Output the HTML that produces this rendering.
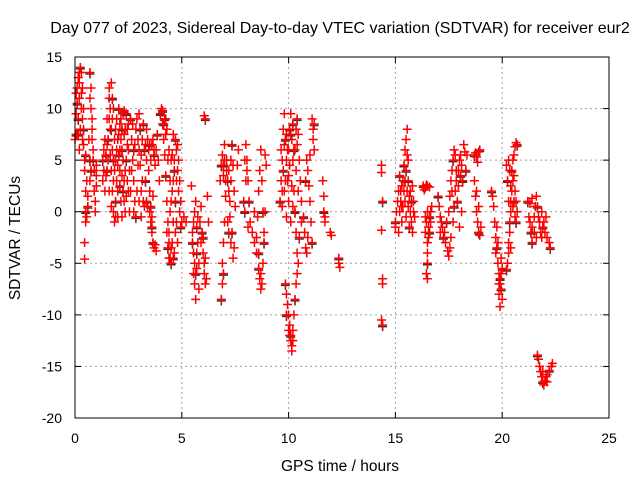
<!DOCTYPE html>
<html><head><meta charset="utf-8"><style>
html,body{margin:0;padding:0;background:#fff;}
svg{display:block;font-family:"Liberation Sans",sans-serif;}
</style></head><body>
<svg id="chart" width="640" height="480" viewBox="0 0 640 480" xmlns="http://www.w3.org/2000/svg">
<rect width="640" height="480" fill="#fff"/>
<text x="340" y="33" font-size="16" text-anchor="middle">Day 077 of 2023, Sidereal Day-to-day VTEC variation (SDTVAR) for receiver eur2</text>
<g id="grid"></g>
<g id="ticks"></g>
<g id="marks"></g>
<rect x="75" y="57" width="534" height="361" fill="none" stroke="#000" stroke-width="1"/>
<text x="340" y="471" font-size="15.5" text-anchor="middle">GPS time / hours</text>
<text x="20" y="238" font-size="15.5" text-anchor="middle" transform="rotate(-90 20 238)">SDTVAR / TECUs</text>
</svg>
<script>
const xTicks=[0,5,10,15,20,25];
const yTicks=[-20,-15,-10,-5,0,5,10,15];
const segA=[[0.05,7.5],[0.1,7.5],[0.15,13],[0.2,12.5],[0.2,11],[0.25,14],[0.3,13.5],[0.3,10],[0.35,12],[0.35,9],[0.4,8],[0.4,6.5],[0.45,5],[0.45,4],[0.5,2],[0.5,0],[0.5,-1],[0.45,-3],[0.45,-4.6],[0.2,6],[0.15,9],[0.25,8],[0.05,11.5],[0.1,12],[0,7],[0.1,10.5],[0.2,13.5],[0.3,11.5],[0.4,10],[0.35,7],[0.5,5.5],[0.55,3],[0.6,1.5],[0.55,-0.5],[0.05,9.5],[0.15,7.5]];
const segB=[[0.7,13.5],[0.75,12],[0.75,10],[0.8,8],[0.8,7],[0.85,5],[0.9,4],[0.9,2],[0.95,1],[0.65,7],[0.7,5],[0.7,3],[0.95,0],[1.0,2.5],[1.0,4.5],[0.6,0.5],[0.7,11],[0.8,9],[0.85,6],[1.0,3.5],[0.75,4]];
const segC=[[1.3,5],[1.3,3],[1.4,7],[1.4,2],[1.5,9],[1.5,4],[1.6,11],[1.6,12],[1.65,10],[1.7,12.5],[1.7,8],[1.75,6],[1.8,3],[1.8,0],[1.85,-1],[1.9,1],[1.9,5],[1.95,9],[2.0,7],[2.0,2],[2.05,10],[2.1,8.5],[2.1,4],[2.15,1],[2.2,-0.5],[2.2,6],[2.25,9.5],[2.3,7.5],[2.3,3],[2.35,0],[2.4,5],[2.45,8],[2.5,6],[2.5,2],[2.55,0],[1.55,7],[1.65,5.5],[1.75,2],[1.85,4],[1.95,3],[2.05,5.5],[2.15,7],[2.25,5],[2.35,8],[2.45,3],[1.45,5.5],[1.35,6],[1.6,9],[1.8,10],[2.0,-0.5],[2.3,9.8],
[1.35,4],[1.45,3.5],[1.55,5],[1.65,8],[1.75,11],[1.85,7],[1.95,6],[2.05,7.5],[2.15,9],[2.25,2],[2.35,4],[2.45,6.5],[2.55,4],[1.7,4],[1.8,5],[1.9,8],[2.0,4.5],[2.1,6],[2.2,3.5],[2.4,9.5],[2.5,8.5],[1.6,2],[1.7,0.5],[1.9,-0.5],[2.1,2.5],[2.3,1],[2.4,1.5],[1.5,6.5],[1.75,9],[2.2,8]];
const segD=[[2.6,9],[2.65,7],[2.7,5],[2.75,3],[2.8,1],[2.85,-0.5],[2.9,2],[2.95,4.5],[3.0,6],[3.0,9.5],[3.05,8],[3.1,5.5],[3.15,3],[3.2,1],[3.25,0.5],[3.3,3],[3.35,5],[3.4,7],[3.45,4],[3.5,2],[3.55,0.5],[3.6,-0.5],[3.65,1.5],[2.7,8.5],[2.9,9],[3.2,8.5],[3.3,6.5],[2.8,6.5],[3.1,2],
[2.65,4],[2.75,6],[2.85,8],[2.95,7],[3.05,4.5],[3.15,7],[3.25,6],[3.35,8],[3.45,6],[3.55,5],[3.6,6.5],[3.7,5.5],[2.6,2],[2.75,0],[3.0,1],[3.1,-0.5],[3.5,6.5],[3.65,7]];
const segE=[[3.35,1],[3.4,0.5],[3.5,0],[3.55,-1],[3.6,-2],[3.65,-3],[3.7,-3.5],[3.8,-3.8],[3.75,4.5],[3.8,6],[3.85,7.5],[3.9,5],[3.95,3],[3.7,6],[3.75,-3.2],[3.6,-1.5]];
const segF=[[4.0,9.5],[4.05,10],[4.1,8.5],[4.15,7],[4.2,5.5],[4.25,3.5],[4.3,1],[4.35,-1],[4.4,-3],[4.45,-4.5],[4.5,-5],[4.55,-3],[4.6,-1],[4.6,3],[4.65,5],[4.7,7],[4.75,6],[4.8,4],[4.85,2],[4.9,0],[4.95,-1.5],[5.0,-1],[4.3,8],[4.4,6],[4.5,5],[4.2,9],[4.6,7.5],[4.8,6.5],[4.5,1],[4.4,-4.5],[4.35,-3.5],[4.65,-4],[4.7,-2],[5.1,-0.5],[5.2,-1],
[4.1,9.8],[4.25,7.5],[4.35,5],[4.45,3],[4.55,5.5],[4.65,4],[4.75,3],[4.85,5],[4.9,3],[4.95,1],[4.7,1],[4.55,2],[4.45,0],[4.4,-2],[4.5,-3.5],[4.6,-4.5],[4.3,-2],[4.75,-1],[4.8,-3],[4.25,9],[4.15,8.5]];
const segG=[[5.5,-3],[5.5,-2],[5.55,-4],[5.6,-5],[5.6,-7],[5.65,-6],[5.7,-5.5],[5.55,-1],[5.6,0],[5.65,1],[5.7,-1.5],[5.75,-3],[5.8,-5],[5.85,-1],[5.9,0.5],[5.95,-2],[6.0,-4],[6.05,-6],[6.1,-7],[6.15,-6.5],[6.0,-2.5],[6.1,-4.5],[5.8,-7.5],[5.65,-8.5],[6.05,9.3],[6.1,9],[5.45,2.5],[6.2,1.5],[6.25,-1],[5.55,-6],[5.7,-4],[5.9,-3],[6.05,-5],[5.75,-0.5]];
const segH=[[6.85,-8.5],[6.9,-7],[6.9,-5],[6.95,-3],[7.0,-1],[6.85,4.5],[6.9,5.5],[6.95,3.5],[7.0,5],[7.1,4],[7.15,3],[7.2,2],[7.25,1],[7.3,3],[7.3,5],[7.35,6.5],[7.4,4.5],[7.45,2],[7.5,0.5],[7.15,-1],[7.2,-2],[7.3,-3],[7.4,-4.5],[7.45,-3.5],[7.25,-0.5],[6.95,-6],[6.8,3],[7.0,6.5],[7.6,4.5],[7.65,6],[6.95,4.5],[7.05,3],[7.1,5],[7.2,4],[7.05,1.5],[7.35,-2]];
const segI=[[7.9,1],[7.95,5],[8.0,6.5],[8.05,5],[8.1,3],[8.15,1],[8.2,-1],[8.3,-2],[8.4,0],[8.5,-4],[8.6,-5.5],[8.65,-6.5],[8.7,-7.5],[8.75,-7],[8.8,-5],[8.85,-3],[8.6,2],[8.65,4],[8.7,6],[8.75,3],[8.8,0],[8.85,-2],[8.5,-2.5],[8.55,-0.5],[8.1,-1.5],[7.95,0],[8.95,4.5],[8.9,5.5],[8.9,0],[8.4,-3],[8.6,-4],[8.05,4],[8.0,3],[8.7,-6]];
const segJ=[[9.6,1],[9.65,3],[9.7,5],[9.75,8],[9.8,9.5],[9.85,7],[9.9,5],[9.95,3],[10.0,1],[10.0,6],[10.05,8],[10.1,9.5],[10.15,7],[10.2,5],[10.25,2],[10.3,0],[10.35,-2],[10.4,-4],[10.3,6],[10.35,8],[10.4,9],[10.5,5],[10.55,3],[10.6,1],[10.6,-1],[10.5,-2.5],[9.7,0.5],[9.8,2],[9.9,7.5],[10.0,3.5],[10.2,8.5],[10.45,7.5],[9.65,6],[9.9,-0.5],[10.1,-1],
[9.75,4],[9.85,3],[9.95,6],[10.05,4.5],[10.15,2.5],[10.25,6],[10.35,4],[10.45,2],[10.4,6.5],[9.8,6.5],[10.1,7.5],[10.2,0.5],[9.7,2]];
const segJ2=[[9.85,-7],[9.9,-8],[9.95,-9],[10.0,-10],[10.05,-11],[10.1,-12],[10.15,-13],[10.1,-12.5],[10.2,-11.5],[10.25,-10],[10.3,-8.5],[10.35,-7],[10.4,-6],[10.45,-5],[10.0,-11.5],[9.9,-10],[10.15,-13.5],[10.05,-12],[10.2,-12.5]];
const segK=[[10.7,-0.5],[10.75,-2],[10.8,-3.5],[10.85,-4],[10.9,-2.5],[10.8,3],[10.85,5],[10.9,4],[11.0,1],[11.05,-1],[11.1,-3],[11.1,9],[11.15,8],[11.15,7],[11.2,6],[11.2,8.5],[11.0,5.5],[10.95,2.5],[11.6,3],[11.65,1.5],[11.65,0],[11.7,-1],[11.7,-0.5],[11.95,-2],[12.0,-2.3],[12.35,-4.5],[12.35,-5],[12.4,-5.4],[14.35,4.5],[14.35,3.8],[14.4,1],[14.35,-1.8],[14.4,-6.5],[14.4,-7],[14.35,-10.5],[14.4,-11]];
const segL=[[15.0,-1],[15.0,-1.5],[15.05,0],[15.1,1],[15.15,2],[15.2,3.5],[15.25,2],[15.3,0.5],[15.3,-1],[15.35,3],[15.4,4.5],[15.45,6],[15.5,7],[15.55,8],[15.55,5.5],[15.6,3],[15.65,1.5],[15.7,0],[15.75,-1],[15.8,-2],[15.75,1],[15.8,2.5],[15.85,1],[15.9,-0.5],[15.4,2],[15.5,4],[15.6,5],[15.3,2.5],[15.2,0],[15.15,-2],[15.65,-1.5],[15.45,1],[15.5,-0.5],[15.25,1],[15.35,0.5],[15.45,3],[15.55,2],[15.7,2],[15.85,0],[15.6,0.5]];
const segN=[[16.3,2.5],[16.4,2.3],[16.5,2.5],[16.6,2.4],[16.35,2.1],[16.45,2.6],[16.4,-0.5],[16.45,-1],[16.5,0],[16.55,-1.5],[16.6,-2],[16.65,-1],[16.7,0.5],[16.5,-3],[16.5,-4],[16.5,-5],[16.45,-6],[16.55,-2.5],[16.4,-2],[16.65,0],[16.6,-0.5],[16.5,-6.5]];
const segO=[[17.0,1.5],[17.05,0.5],[17.1,-0.5],[17.15,-1],[17.2,-1.5],[17.25,-2.5],[17.3,-2],[17.35,-3],[17.1,-2],[17.45,-3.8],[17.4,-1],[17.5,0],[17.55,1.5],[17.6,3],[17.65,4],[17.7,5],[17.75,6],[17.8,5.5],[17.85,4],[17.8,2],[17.75,0.5],[17.7,-1],[17.6,-2.5],[17.55,-3.5],[17.5,-4.3],[17.9,1],[17.95,2.5],[18.0,5],[18.05,5.5],[18.1,4.5],[18.15,3],[18.1,0],[18.0,-1.5],[18.2,6.5],[18.25,5.8],[18.3,4],[18.35,5.5],[17.65,2],[17.85,3],[17.95,4],[18.05,3.5]];
const segQ=[[18.7,5.5],[18.75,5.7],[18.8,5.3],[18.85,4.8],[18.9,5.8],[18.95,6],[18.7,3],[18.75,1.5],[18.8,0],[18.85,-1],[18.9,-2],[18.95,-2.3],[18.8,2],[18.9,0.5],[19.0,-1.5]];
const segR=[[19.5,2],[19.55,1.5],[19.6,0.5],[19.65,-1],[19.7,-2.5],[19.75,-3.5],[19.7,-4],[19.8,-5],[19.85,-6],[19.9,-7],[19.95,-7.5],[20.0,-8.5],[19.9,-9.2],[19.85,-8],[19.95,-6],[20.0,-5.5],[19.8,-3],[19.75,-1.5],[19.95,-4.5],[19.85,-7],[19.9,-6.5]];
const segS=[[20.2,-5.6],[20.25,-5],[20.3,-4],[20.3,-3],[20.35,-2],[20.35,-1],[20.4,0],[20.4,1],[20.45,2],[20.5,3],[20.45,4],[20.5,5],[20.55,5.5],[20.6,6.3],[20.65,6.7],[20.7,6.5],[20.55,3.5],[20.6,2],[20.65,1],[20.7,0],[20.65,-1],[20.6,-0.5],[20.5,0.5],[20.4,-3.5],[20.3,1],[20.25,3],[20.2,4.5],[20.3,5],[20.35,4],[20.4,2.5],[20.55,1]];
const segU=[[21.2,1],[21.3,0.8],[21.4,1.3],[21.25,-0.5],[21.3,-1],[21.35,-2],[21.4,-1.5],[21.5,-0.5],[21.55,0.5],[21.6,1.5],[21.65,0.5],[21.7,-0.5],[21.75,-1],[21.8,-2],[21.85,-2.5],[21.9,-1.5],[21.95,-1],[22.0,-2],[22.1,-2.5],[22.2,-3],[22.25,-3.5],[21.5,-2],[21.6,-2.5],[21.85,0],[22.05,-0.5],[21.4,-3]];
const segT=[[21.65,-13.9],[21.7,-14.3],[21.75,-15],[21.8,-15.5],[21.85,-16],[21.9,-16.5],[21.95,-16.8],[22.0,-16.4],[22.05,-16],[22.1,-15.8],[22.2,-15.4],[22.3,-15],[22.35,-14.7],[21.9,-15.5],[22.1,-16.5]];
const segments=[segA,segB,segC,segD,segE,segF,segG,segH,segI,segJ,segJ2,segK,segL,segN,segO,segQ,segR,segS,segU,segT];

const NS='http://www.w3.org/2000/svg';
const X0=75,X1=609,Y0=418,Y1=57;
function sx(t){return X0+(t-0)/(25-0)*(X1-X0);}
function sy(v){return Y0-(v+20)/(15+20)*(Y0-Y1);}
const grid=document.getElementById('grid'),ticks=document.getElementById('ticks'),marks=document.getElementById('marks');
function mk(tag,attrs,parent){const e=document.createElementNS(NS,tag);for(const k in attrs)e.setAttribute(k,attrs[k]);parent.appendChild(e);return e;}
xTicks.forEach(t=>{
  const x=sx(t);
  if(t>0&&t<25){const g=mk('line',{x1:x,x2:x,y1:Y1,y2:Y0,stroke:'#a0a0a0','stroke-dasharray':'2,3'},grid);
  
  }
  mk('line',{x1:x,x2:x,y1:Y0,y2:Y0-6,stroke:'#000'},ticks);
  mk('line',{x1:x,x2:x,y1:Y1,y2:Y1+6,stroke:'#000'},ticks);
  const l=mk('text',{x:x,y:443,'font-size':14,'text-anchor':'middle'},ticks);
  l.textContent=t;
  
  
});
yTicks.forEach(v=>{
  const y=sy(v);
  if(v>-20&&v<15){const g=mk('line',{x1:X0,x2:X1,y1:y,y2:y,stroke:'#a0a0a0','stroke-dasharray':'2,3'},grid);
  
  }
  mk('line',{x1:X0,x2:X0+6,y1:y,y2:y,stroke:'#000'},ticks);
  mk('line',{x1:X1,x2:X1-6,y1:y,y2:y,stroke:'#000'},ticks);
  const l=mk('text',{x:62,y:y+5,'font-size':14,'text-anchor':'end'},ticks);
  l.textContent=v;
  
  
});
function cross(x,y,col){
  return mk('path',{d:`M${x-4.5},${y}H${x+4.5}M${x},${y-4.5}V${y+4.5}`,stroke:col,'stroke-width':1.5,fill:'none'},marks);
}
segments.forEach(seg=>seg.forEach(([t,v],i)=>{
  if(i%5!==0)return;
  const b=cross(sx(t),sy(v)+1.5,'#333');
  
  
}));
segments.forEach(seg=>seg.forEach(([t,v])=>{
  const r=cross(sx(t),sy(v),'#ff0000');
  
  
}));
</script>
</body></html>
